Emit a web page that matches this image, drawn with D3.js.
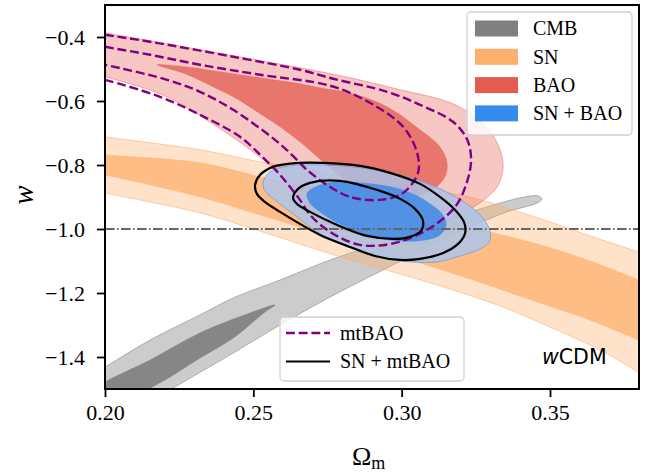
<!DOCTYPE html>
<html><head><meta charset="utf-8">
<script src="https://cdn.jsdelivr.net/npm/d3@7"></script>
<style>body{margin:0;background:#fff;} svg{display:block;}</style>
</head><body>
<svg id="c" width="646" height="475"></svg>
<script>
// ---- data (Omega_m, w) ----
const xTicks = [0.20, 0.25, 0.30, 0.35];
const yTicks = [-1.4, -1.2, -1.0, -0.8, -0.6, -0.4];
const xDomain = [0.20, 0.38];
const yDomain = [-1.5, -0.3];
const refW = -1.0;

const cmb2 = [[0.1848,-1.5155],[0.2000,-1.4314],[0.2152,-1.3469],[0.2320,-1.2687],[0.2432,-1.2155],[0.2590,-1.1592],[0.2759,-1.0967],[0.2961,-1.0341],[0.3129,-0.9778],[0.3298,-0.9278],[0.3416,-0.8996],[0.3460,-0.8965],[0.3473,-0.9059],[0.3457,-0.9184],[0.3355,-0.9465],[0.3241,-0.9903],[0.3129,-1.0404],[0.2951,-1.1217],[0.2759,-1.2124],[0.2590,-1.3000],[0.2432,-1.3876],[0.2229,-1.4971],[0.1983,-1.6296],[0.1848,-1.6593]];
const cmb1 = [[0.1949,-1.5096],[0.2000,-1.4783],[0.2152,-1.4095],[0.2320,-1.3250],[0.2489,-1.2625],[0.2573,-1.2375],[0.2539,-1.2594],[0.2432,-1.3407],[0.2320,-1.4033],[0.2219,-1.4627],[0.2142,-1.5033],[0.2051,-1.5659],[0.1949,-1.5659]];
const sn2 = [[0.1916,-0.6994],[0.2000,-0.7119],[0.2320,-0.7526],[0.2523,-0.7902],[0.2826,-0.8371],[0.3062,-0.8715],[0.3241,-0.9028],[0.3365,-0.9372],[0.3500,-0.9778],[0.3635,-1.0216],[0.3797,-1.0717],[0.3871,-1.0967],[0.3871,-1.4908],[0.3797,-1.4470],[0.3669,-1.3782],[0.3500,-1.3063],[0.3332,-1.2406],[0.3163,-1.1874],[0.2995,-1.1405],[0.2826,-1.0967],[0.2657,-1.0466],[0.2489,-0.9966],[0.2320,-0.9497],[0.2000,-0.8871],[0.1916,-0.8714]];
const sn1 = [[0.1916,-0.7589],[0.2000,-0.7682],[0.2320,-0.7933],[0.2523,-0.8371],[0.2826,-0.8934],[0.3062,-0.9465],[0.3298,-1.0091],[0.3467,-1.0497],[0.3635,-1.0998],[0.3797,-1.1592],[0.3871,-1.1905],[0.3871,-1.3782],[0.3797,-1.3469],[0.3635,-1.2844],[0.3467,-1.2312],[0.3241,-1.1592],[0.3062,-1.1060],[0.2826,-1.0404],[0.2657,-0.9934],[0.2489,-0.9465],[0.2320,-0.8996],[0.2000,-0.8308],[0.1916,-0.8152]];
const bao2 = [[0.1916,-0.3710],[0.2000,-0.3866],[0.2152,-0.4117],[0.2320,-0.4398],[0.2489,-0.4680],[0.2657,-0.4961],[0.2826,-0.5274],[0.2995,-0.5649],[0.3173,-0.6087],[0.3274,-0.6713],[0.3325,-0.7370],[0.3342,-0.8058],[0.3322,-0.8683],[0.3264,-0.9184],[0.3187,-0.9591],[0.3113,-0.9966],[0.2995,-1.0216],[0.2893,-1.0216],[0.2782,-0.9966],[0.2708,-0.9497],[0.2651,-0.8934],[0.2590,-0.8308],[0.2512,-0.7682],[0.2378,-0.6806],[0.2209,-0.5868],[0.2084,-0.5462],[0.2000,-0.5243],[0.1916,-0.5024]];
const bao1 = [[0.2175,-0.4867],[0.2270,-0.4930],[0.2388,-0.5086],[0.2523,-0.5274],[0.2657,-0.5462],[0.2725,-0.5587],[0.2836,-0.5775],[0.2951,-0.6181],[0.3062,-0.6900],[0.3129,-0.7432],[0.3153,-0.7933],[0.3146,-0.8371],[0.3113,-0.8715],[0.3062,-0.8934],[0.2995,-0.9059],[0.2927,-0.9027],[0.2850,-0.8715],[0.2775,-0.8215],[0.2708,-0.7683],[0.2657,-0.7276],[0.2590,-0.6807],[0.2523,-0.6400],[0.2438,-0.5900],[0.2364,-0.5556],[0.2270,-0.5149]];
const snbao2 = [[0.2533,-0.8527],[0.2556,-0.8214],[0.2624,-0.8027],[0.2792,-0.8027],[0.2927,-0.8183],[0.3028,-0.8402],[0.3129,-0.8746],[0.3214,-0.9184],[0.3274,-0.9653],[0.3298,-1.0091],[0.3295,-1.0404],[0.3258,-1.0654],[0.3197,-1.0842],[0.3119,-1.1029],[0.3028,-1.1029],[0.2937,-1.0904],[0.2826,-1.0591],[0.2735,-1.0216],[0.2634,-0.9528],[0.2573,-0.9090],[0.2539,-0.8808]];
const snbao1 = [[0.2681,-0.8902],[0.2718,-0.8652],[0.2792,-0.8527],[0.2893,-0.8589],[0.2978,-0.8715],[0.3045,-0.8934],[0.3096,-0.9215],[0.3136,-0.9528],[0.3150,-0.9872],[0.3129,-1.0185],[0.3079,-1.0341],[0.2995,-1.0372],[0.2893,-1.0216],[0.2792,-0.9841],[0.2725,-0.9465],[0.2691,-0.9184]];
const mt2 = [[0.1916,-0.3804],[0.2000,-0.3929],[0.2152,-0.4148],[0.2432,-0.4617],[0.2657,-0.5024],[0.2769,-0.5305],[0.2951,-0.5712],[0.3062,-0.6119],[0.3173,-0.6650],[0.3221,-0.7213],[0.3234,-0.7839],[0.3217,-0.8621],[0.3180,-0.9309],[0.3096,-0.9966],[0.2978,-1.0435],[0.2860,-1.0497],[0.2759,-1.0091],[0.2691,-0.9559],[0.2657,-0.9090],[0.2590,-0.8308],[0.2523,-0.7682],[0.2455,-0.7119],[0.2320,-0.6431],[0.2185,-0.5868],[0.2000,-0.5337],[0.1916,-0.5149]];
const mt1 = [[0.1916,-0.4148],[0.2000,-0.4304],[0.2152,-0.4555],[0.2320,-0.4867],[0.2523,-0.5180],[0.2759,-0.5524],[0.2893,-0.6056],[0.3005,-0.6806],[0.3052,-0.7620],[0.3055,-0.8245],[0.3005,-0.8871],[0.2927,-0.9090],[0.2826,-0.8996],[0.2748,-0.8621],[0.2681,-0.8152],[0.2630,-0.7682],[0.2573,-0.7213],[0.2432,-0.6275],[0.2320,-0.5712],[0.2209,-0.5337],[0.2000,-0.4867],[0.1916,-0.4711]];
const snmt2 = [[0.2506,-0.8621],[0.2523,-0.8308],[0.2566,-0.8058],[0.2657,-0.7933],[0.2735,-0.7933],[0.2860,-0.8027],[0.2961,-0.8246],[0.3062,-0.8590],[0.3129,-0.8996],[0.3180,-0.9403],[0.3210,-0.9778],[0.3214,-1.0122],[0.3190,-1.0466],[0.3140,-1.0748],[0.3062,-1.0935],[0.2995,-1.0967],[0.2910,-1.0842],[0.2826,-1.0560],[0.2725,-1.0185],[0.2657,-0.9840],[0.2590,-0.9465],[0.2539,-0.9153],[0.2512,-0.8902]];
const snmt1 = [[0.2634,-0.9027],[0.2651,-0.8746],[0.2691,-0.8558],[0.2792,-0.8496],[0.2927,-0.8809],[0.2995,-0.9059],[0.3045,-0.9371],[0.3072,-0.9747],[0.3065,-1.0060],[0.3028,-1.0247],[0.2978,-1.0310],[0.2883,-1.0216],[0.2775,-0.9841],[0.2691,-0.9465],[0.2647,-0.9215]];

const fillLabels = ["CMB", "SN", "BAO", "SN + BAO"];
const lineLabels = ["mtBAO", "SN + mtBAO"];
const modelLabel = "CDM";

// ---- styles ----
const legendColors = ["#808080", "#FFAF6C", "#E45B4F", "#348CEE"];
const serif = "'Liberation Serif','Times New Roman',serif";

const M = {left:105, top:5, right:639, bottom:389};
const svg = d3.select("#c");
const x = d3.scaleLinear().domain(xDomain).range([M.left, M.right]);
const y = d3.scaleLinear().domain(yDomain).range([M.bottom, M.top]);

svg.append("defs").append("clipPath").attr("id","clip")
  .append("rect").attr("x",M.left).attr("y",M.top)
  .attr("width",M.right-M.left).attr("height",M.bottom-M.top);

const g = svg.append("g").attr("clip-path","url(#clip)");
const closed = d3.line().x(d=>x(d[0])).y(d=>y(d[1])).curve(d3.curveCatmullRomClosed.alpha(0.5));

function area(data, fill, op, stroke, sop) {
  g.append("path").attr("d", closed(data))
    .attr("fill", fill).attr("fill-opacity", op)
    .attr("stroke", stroke).attr("stroke-opacity", sop).attr("stroke-width", 1);
}
// CMB
area(cmb2, "#808080", 0.4, "#808080", 0.55);
area(cmb1, "#808080", 0.92, "#808080", 0.6);
// SN
area(sn2, "#FFAF6C", 0.36, "#FFAF6C", 0.6);
area(sn1, "#FFAF6C", 0.72, "#FFAF6C", 0.5);
// BAO
area(bao2, "#E45B4F", 0.34, "#E45B4F", 0.45);
area(bao1, "#E45B4F", 0.75, "#E45B4F", 0.3);
// SN + BAO
area(snbao2, "#A9C5EC", 0.82, "#6F9FDD", 0.8);
area(snbao1, "#3F8AE6", 0.85, "#3F8AE6", 0.5);

// reference line w = -1
g.append("line").attr("x1", M.left).attr("x2", M.right)
  .attr("y1", y(refW)).attr("y2", y(refW))
  .attr("stroke", "#666").attr("stroke-width", 2)
  .attr("stroke-dasharray", "9.6,2.4,1.6,2.4");

// mtBAO dashed
[mt2, mt1].forEach(d => g.append("path").attr("d", closed(d))
  .attr("fill","none").attr("stroke","#800080").attr("stroke-width",2.4)
  .attr("stroke-dasharray","8.9,3.8"));
// SN + mtBAO solid
[snmt2, snmt1].forEach(d => g.append("path").attr("d", closed(d))
  .attr("fill","none").attr("stroke","#000").attr("stroke-width",2.2));

// axes
const xAxis = d3.axisBottom(x).tickValues(xTicks).tickFormat(d3.format(".2f"))
  .tickSize(8).tickSizeOuter(0).tickPadding(7.5);
const yAxis = d3.axisLeft(y).tickValues(yTicks).tickFormat(d3.format(".1f"))
  .tickSize(8).tickSizeOuter(0).tickPadding(12);
const gx = svg.append("g").attr("transform",`translate(0,${M.bottom})`).call(xAxis);
const gy = svg.append("g").attr("transform",`translate(${M.left},0)`).call(yAxis);
[gx, gy].forEach(a => {
  a.select(".domain").remove();
  a.selectAll(".tick line").attr("stroke","#000").attr("stroke-width",1.8);
  a.selectAll(".tick text").attr("font-family", serif).attr("font-size", 22).attr("fill","#000");
});

// frame
svg.append("rect").attr("x",M.left).attr("y",M.top)
  .attr("width",M.right-M.left).attr("height",M.bottom-M.top)
  .attr("fill","none").attr("stroke","#000").attr("stroke-width",2);

// axis labels
const xl = svg.append("text").attr("x", 352).attr("y", 465)
  .attr("font-family", serif).attr("font-size", 26).attr("fill","#000");
xl.append("tspan").text("Ω");
xl.append("tspan").attr("font-size", 18).attr("dy", 4).text("m");

svg.append("text").attr("transform","translate(33,195) rotate(-90)")
  .attr("text-anchor","middle").attr("font-family", serif).attr("font-style","italic")
  .attr("font-size", 29).attr("fill","#000").text("w");

// model label
const ml = svg.append("text").attr("x", 542).attr("y", 364)
  .attr("font-family","'DejaVu Sans',sans-serif").attr("font-size", 20.5).attr("fill","#000");
ml.append("tspan").attr("font-style","italic").text("w");
ml.append("tspan").text(modelLabel);

// legend 1 (filled)
const L1 = svg.append("g");
L1.append("rect").attr("x",467).attr("y",12).attr("width",165).attr("height",123)
  .attr("rx",4).attr("fill","#fff").attr("fill-opacity",0.8)
  .attr("stroke","#d0d0d0").attr("stroke-width",1.3);
fillLabels.forEach((lab,i) => {
  const cy = 28.5 + i*28.3;
  L1.append("rect").attr("x",475).attr("y",cy-8).attr("width",43).attr("height",16)
    .attr("fill", legendColors[i]);
  L1.append("text").attr("x",533).attr("y",cy+6.8).attr("font-family",serif)
    .attr("font-size",20).attr("fill","#000").text(lab);
});

// legend 2 (lines)
const L2 = svg.append("g");
L2.append("rect").attr("x",280).attr("y",317).attr("width",184).attr("height",64)
  .attr("rx",4).attr("fill","#fff").attr("fill-opacity",0.8)
  .attr("stroke","#d0d0d0").attr("stroke-width",1.3);
lineLabels.forEach((lab,i) => {
  const cy = 333 + i*28.5;
  L2.append("line").attr("x1",286).attr("x2",330).attr("y1",cy).attr("y2",cy)
    .attr("stroke", i===0 ? "#800080" : "#000").attr("stroke-width", i===0 ? 2.4 : 2.2)
    .attr("stroke-dasharray", i===0 ? "8.9,3.8" : null);
  L2.append("text").attr("x",340).attr("y",cy+6.8).attr("font-family",serif)
    .attr("font-size",20).attr("fill","#000").text(lab);
});
</script>
</body></html>
